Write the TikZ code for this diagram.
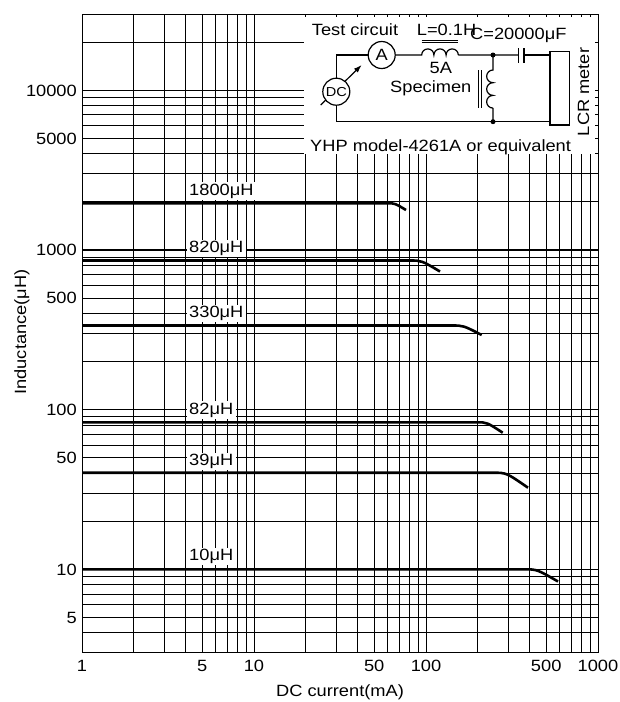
\documentclass[tikz,border=0pt]{standalone}
\usepackage{fontspec}
\setmainfont{Liberation Sans}[FakeStretch=1.12]
\usetikzlibrary{arrows.meta,calc}
\begin{document}
\begin{tikzpicture}[x=1pt,y=-1pt,
  grid/.style={line width=0.9pt},
  decade/.style={line width=1.3pt},
  curve/.style={line width=2.6pt},
  wire/.style={line width=1.2pt},
  thinwire/.style={line width=1pt},
  every node/.style={font=\fontsize{16.3}{19}\selectfont},
  lbl/.style={fill=white,inner xsep=2.5pt,inner ysep=1.5pt,anchor=base west},
  txt/.style={inner sep=0pt,anchor=base west},
  tick/.style={inner sep=0pt,anchor=base},
  ytick/.style={inner sep=0pt,anchor=base east},
  meter/.style={draw,circle,wire,minimum size=27pt,inner sep=0pt,fill=white},
  dot/.style={circle,fill=black,inner sep=0pt,minimum size=5pt},
]
\useasboundingbox (0,0) rectangle (619,702);
% ---------- vertical grid ----------
\foreach \d in {0,1,2}{
  \foreach \m in {1,...,9}{
    \pgfmathsetmacro\xx{82+172*(\d+log10(\m))}
    \draw[grid] (\xx,14) -- (\xx,652.8);
  }
}
\draw[grid] (598,14) -- (598,652.8);
% ---------- horizontal grid ----------
\foreach \m in {3,...,9}{
  \pgfmathsetmacro\yy{14+159.7*(4.4771-log10(\m))}
  \draw[grid] (82,\yy) -- (598,\yy);
}
\foreach \d in {1,2,3}{
  \foreach \m in {1,...,9}{
    \pgfmathsetmacro\yy{14+159.7*(4.4771-\d-log10(\m))}
    \draw[grid] (82,\yy) -- (598,\yy);
  }
}
\foreach \m in {1,2,3}{
  \pgfmathsetmacro\yy{14+159.7*(4.4771-4-log10(\m))}
  \draw[grid] (82,\yy) -- (598,\yy);
}
\foreach \d in {1,2,3,4}{
  \pgfmathsetmacro\yy{14+159.7*(4.4771-\d)}
  \draw[decade] (82,\yy) -- (598,\yy);
}
% ---------- inset background ----------
\fill[white] (304,17) rectangle (595,154);
% ---------- curve labels ----------
\node[lbl] (l1800) at (186.5,195) {1800μH};
\node[lbl] (l820) at (186.5,252.5) {820μH};
\node[lbl] (l330) at (186.5,317.5) {330μH};
\node[lbl] (l82) at (186.5,414) {82μH};
\node[lbl] (l39) at (186.5,465.7) {39μH};
\node[lbl] (l10) at (186.5,560.7) {10μH};
% ---------- curves ----------
\foreach \y/\xb/\xe/\ye in {203.3/388/406/210, 260.5/410/440/271.5, 325.5/452/481.7/335,
  422.3/477/502.7/432.7, 472.7/493/528/487.7, 569.3/524/558/581.5}{
  \pgfmathsetmacro\xc{\xb+0.38*(\xe-\xb)}
  \draw[curve] (82,\y) -- (\xb,\y) .. controls (\xc,\y) .. (\xe,\ye);
}
% ---------- axis tick labels ----------
\foreach \v/\t in {0/1, 0.69897/5, 1/10, 1.69897/50, 2/100, 2.69897/500, 3/1000}{
  \pgfmathsetmacro\xx{82+172*\v}
  \node[tick] at (\xx,671) {\t};
}
\foreach \v/\t in {4/10000, 3.69897/5000, 3/1000, 2.69897/500, 2/100, 1.69897/50, 1/10, 0.69897/5}{
  \pgfmathsetmacro\yy{14+159.7*(4.4771-\v)+5.85}
  \node[ytick] at (77,\yy) {\t};
}
\node[tick] (xlab) at (340,696) {DC current(mA)};
\node[tick,rotate=90] (ylab) at (26,332) {Inductance(μH)};
% ---------- test circuit ----------
\node[txt] (t1) at (311.7,35) {Test circuit};
\node[txt] (t2) at (416.7,35) {L=0.1H};
\node[txt] (t3) at (470,39.3) {C=20000μF};
\node[tick] (t4) at (440.8,73.3) {5A};
\node[txt] (t5) at (390,92.7) {Specimen};
\node[txt] (t6) at (310,151.7) {YHP model-4261A or equivalent};
\node[tick,rotate=90] (t7) at (589,92) {LCR meter};

\coordinate (ar1) at (320.7,105);
\coordinate (ar2) at (361.7,65);
\draw[wire,-{Latex[length=8pt,width=5.5pt]}] (ar1) -- (ar2);
\node[meter] (dc) at (336.3,91.7) {\fontsize{13}{15}\selectfont DC};
\node[meter] (am) at (381.7,55) {A};
\node[draw,wire,minimum width=19.3pt,minimum height=73.3pt,inner sep=0pt] (lcr) at (559.7,88.3) {};

\coordinate (tl) at (336.3,55);
\coordinate (bl) at (336.3,121.7);
\coordinate (j1) at (493,55);
\coordinate (j2) at (493,121.7);
\coordinate (L1) at (421.7,55);
\coordinate (L2) at (458.3,55);
\coordinate (c1) at (518.7,55);
\coordinate (c2) at (524,55);
\coordinate (s1) at (493,70);
\coordinate (s2) at (493,108.1);

\draw[wire] (dc.north) -- (tl) -- (am.west);
\draw[wire] (am.east) -- (L1)
  arc[start angle=180,end angle=360,radius=6.1]
  arc[start angle=180,end angle=360,radius=6.1]
  arc[start angle=180,end angle=360,radius=6.1] -- (L2) -- (j1) -- (c1);
\draw[wire] (c2) -- (lcr.west |- c2);
\draw[wire] (518.7,48.3) -- (518.7,63.3);
\draw[wire] (524,48.3) -- (524,63.3);
\draw[wire] (j1) -- (s1)
  arc[start angle=-90,end angle=-270,radius=6.35]
  arc[start angle=-90,end angle=-270,radius=6.35]
  arc[start angle=-90,end angle=-270,radius=6.35] -- (s2) -- (j2);
\draw[wire] (dc.south) -- (bl) -- (j2) -- (lcr.west |- j2);
\draw[thinwire] (421.7,40) -- (458.3,40);
\draw[thinwire] (421.7,42.7) -- (458.3,42.7);
\draw[thinwire] (478.3,70) -- (478.3,108.3);
\draw[thinwire] (481.7,70) -- (481.7,108.3);
\node[dot] (d1) at (j1) {};
\node[dot] (d2) at (j2) {};
\end{tikzpicture}
\end{document}
